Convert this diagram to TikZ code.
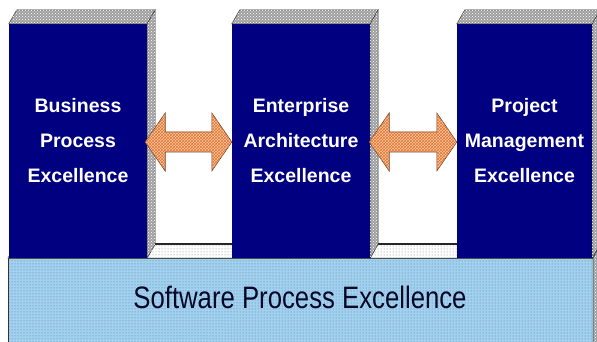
\documentclass[tikz,border=0pt]{standalone}
\usepackage{fontspec}
\setmainfont{Liberation Sans}
\usepackage{tikz}
\usetikzlibrary{calc}
\usetikzlibrary{patterns}

\definecolor{navy}{RGB}{0,0,128}
\definecolor{slabblue}{RGB}{160,210,238}
\definecolor{bevel}{RGB}{160,160,160}
\definecolor{arrowfill}{RGB}{252,196,150}
\definecolor{arrowline}{RGB}{110,60,35}
\tikzset{face/.style={fill=bevel, draw=gray!40!black, line width=0.5pt, postaction={pattern=crosshatch dots, pattern color=white}}}

\begin{document}
\begin{tikzpicture}[x=1pt, y=-1pt,
  box/.style={fill=navy, text=white, align=center, inner sep=0pt, minimum height=234pt,
    font=\bfseries\fontsize{19.5}{35}\selectfont},
  dblarrow/.style={fill=arrowfill, draw=arrowline, line width=0.6pt, line join=miter,
    postaction={pattern=crosshatch, pattern color={rgb,255:red,222;green,120;blue,62}}}]
  \clip (0, 0) rectangle (597, 342);
  \useasboundingbox (0, 0) rectangle (597, 342);

  % bottom slab
  \fill[slabblue, postaction={pattern=dots, pattern color=navy!60}] (8, 258) rectangle (593, 350);
  \draw[gray!40!black, line width=0.5pt] (8, 350) -- (8, 258) -- (593, 258) -- (593, 350);
  \filldraw[face, fill=white, postaction={pattern=dots, pattern color=gray}] (8, 258) -- (593, 258) -- ++(8, -14) -- (16, 244) -- cycle;
  \draw[gray!30!black, line width=1.2pt] (16, 244) -- (601, 244);
  \filldraw[face] (593, 258) -- ++(8, -14) -- (601, 350) -- (593, 350) -- cycle;
  \node[font=\fontsize{31}{31}\selectfont, text={rgb,255:red,8;green,8;blue,40}, xscale=0.83, inner sep=0pt] at (300, 297) (spe) {Software Process Excellence};

  % three columns
  \node[box, minimum width=138pt] at (78, 141) (bpe) {Business\\Process\\Excellence};
  \node[box, minimum width=138pt] at (301, 141) (eae) {Enterprise\\Architecture\\Excellence};
  \node[box, minimum width=135pt] at (524.5, 141) (pme) {Project\\Management\\Excellence};

  \foreach \b in {bpe, eae, pme} {
    \filldraw[face] (\b.north west) -- (\b.north east) -- ++(8, -14) -- ($(\b.north west)+(8, -14)$) -- cycle;
    \filldraw[face] (\b.north east) -- ++(8, -14) -- ($(\b.south east)+(8, -14)$) -- (\b.south east) -- cycle;
  }

  % arrows between columns
  \filldraw[dblarrow] ($(bpe.east)+(-2, 1)$) coordinate (t1) -- ++(20, -29) -- ++(0, 19)
    -- ($(eae.west)+(-20, -9)$) -- ++(0, -19) -- ($(eae.west)+(0, 1)$) -- ++(-20, 29) -- ++(0, -19)
    -- ($(t1)+(20, 10)$) -- ++(0, 19) -- cycle;
  \filldraw[dblarrow] ($(eae.east)+(-1, 1)$) coordinate (t2) -- ++(20, -29) -- ++(0, 19)
    -- ($(pme.west)+(-20, -9)$) -- ++(0, -19) -- ($(pme.west)+(0, 1)$) -- ++(-20, 29) -- ++(0, -19)
    -- ($(t2)+(20, 10)$) -- ++(0, 19) -- cycle;
\end{tikzpicture}
\end{document}
